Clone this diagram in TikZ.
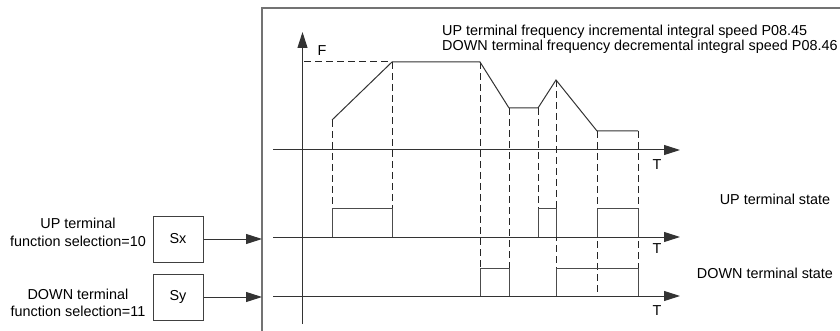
\documentclass[tikz,border=0pt]{standalone}
\usepackage{fontspec}
\setmainfont{Liberation Sans}
\usetikzlibrary{arrows.meta}
\tikzset{
  lbl/.style={inner sep=0pt, font=\fontsize{14.4}{16.5}\selectfont, align=center},
  sbox/.style={draw=black!75, line width=1pt, minimum width=50pt, minimum height=46pt, inner sep=0pt, font=\fontsize{14.4}{16.5}\selectfont},
  axis/.style={draw=black!80, line width=1pt, -{Triangle[length=16pt,width=10pt]}},
  plain/.style={draw=black!80, line width=1pt},
  dsh/.style={draw=black!85, line width=1pt, dash pattern=on 7pt off 4pt},
  sig/.style={draw=black!70, line width=1pt},
}
\begin{document}
\begin{tikzpicture}[x=1pt,y=-1pt]
\useasboundingbox (0,0) rectangle (840,331);
% frame
\draw[draw=black!55, line width=1.3pt] (262,331) -- (262,8) -- (841,8);
% F axis
\coordinate (fb) at (302.5,324);
\coordinate (ft) at (302.5,32);
\draw[axis] (fb) -- (ft);
\node[lbl] (F) at (322,51) {F};
% time axes
\coordinate (a1s) at (273,150); \coordinate (a1e) at (680,150);
\coordinate (a2s) at (273,237); \coordinate (a2e) at (680,237);
\coordinate (a3s) at (273,296); \coordinate (a3e) at (680,296);
\draw[axis] (a1s) -- (a1e);
\draw[axis] (a2s) -- (a2e);
\draw[axis] (a3s) -- (a3e);
\node[lbl] (T1) at (657,165) {T};
\node[lbl] (T2) at (657,249) {T};
\node[lbl] (T3) at (657,311) {T};
% dashed top level
\draw[dsh] (304,62) -- (392,62);
% dashed time marks
\draw[dsh] (332,120) -- (332,208);
\draw[dsh] (392,62) -- (392,208);
\draw[dsh] (480,62) -- (480,268);
\draw[dsh] (509,108) -- (509,268);
\draw[dsh] (538,108) -- (538,208);
\draw[dsh] (556,80) -- (556,296);
\draw[dsh] (597,131) -- (597,296);
\draw[dsh] (638,131) -- (638,296);
% frequency curve
\draw[plain] (332,120) -- (392,62) -- (480,62) -- (509,108) -- (538,108) -- (556,80) -- (597,131) -- (638,131);
% UP pulses
\draw[sig] (332,237) -- (332,208) -- (392,208) -- (392,237);
\draw[sig] (538,237) -- (538,208) -- (556,208) -- (556,237);
\draw[sig] (597,237) -- (597,208) -- (638,208) -- (638,237);
% DOWN pulses
\draw[sig] (480,296) -- (480,268) -- (509,268) -- (509,296);
\draw[sig] (556,296) -- (556,268) -- (638,268) -- (638,296);
% texts
\node[lbl, anchor=west, align=left, font=\fontsize{14.4}{15}\selectfont] (top) at (442,39.5) {UP terminal frequency incremental integral speed P08.45\\DOWN terminal frequency decremental integral speed P08.46};
\node[lbl] (upst) at (775,199) {UP terminal state};
\node[lbl] (dnst) at (765,273) {DOWN terminal state};
\node[lbl, font=\fontsize{14.4}{18}\selectfont] (upl) at (78,232) {UP terminal\\function selection=10};
\node[lbl, font=\fontsize{14.4}{17}\selectfont] (dnl) at (78,302.5) {DOWN terminal\\function selection=11};
% boxes
\node[sbox] (sx) at (178,239) {Sx};
\node[sbox] (sy) at (178,297) {Sy};
\coordinate (sxe) at (262,239);
\coordinate (sye) at (262,297);
\draw[axis] (sx.east) -- (sxe);
\draw[axis] (sy.east) -- (sye);
\end{tikzpicture}
\end{document}
